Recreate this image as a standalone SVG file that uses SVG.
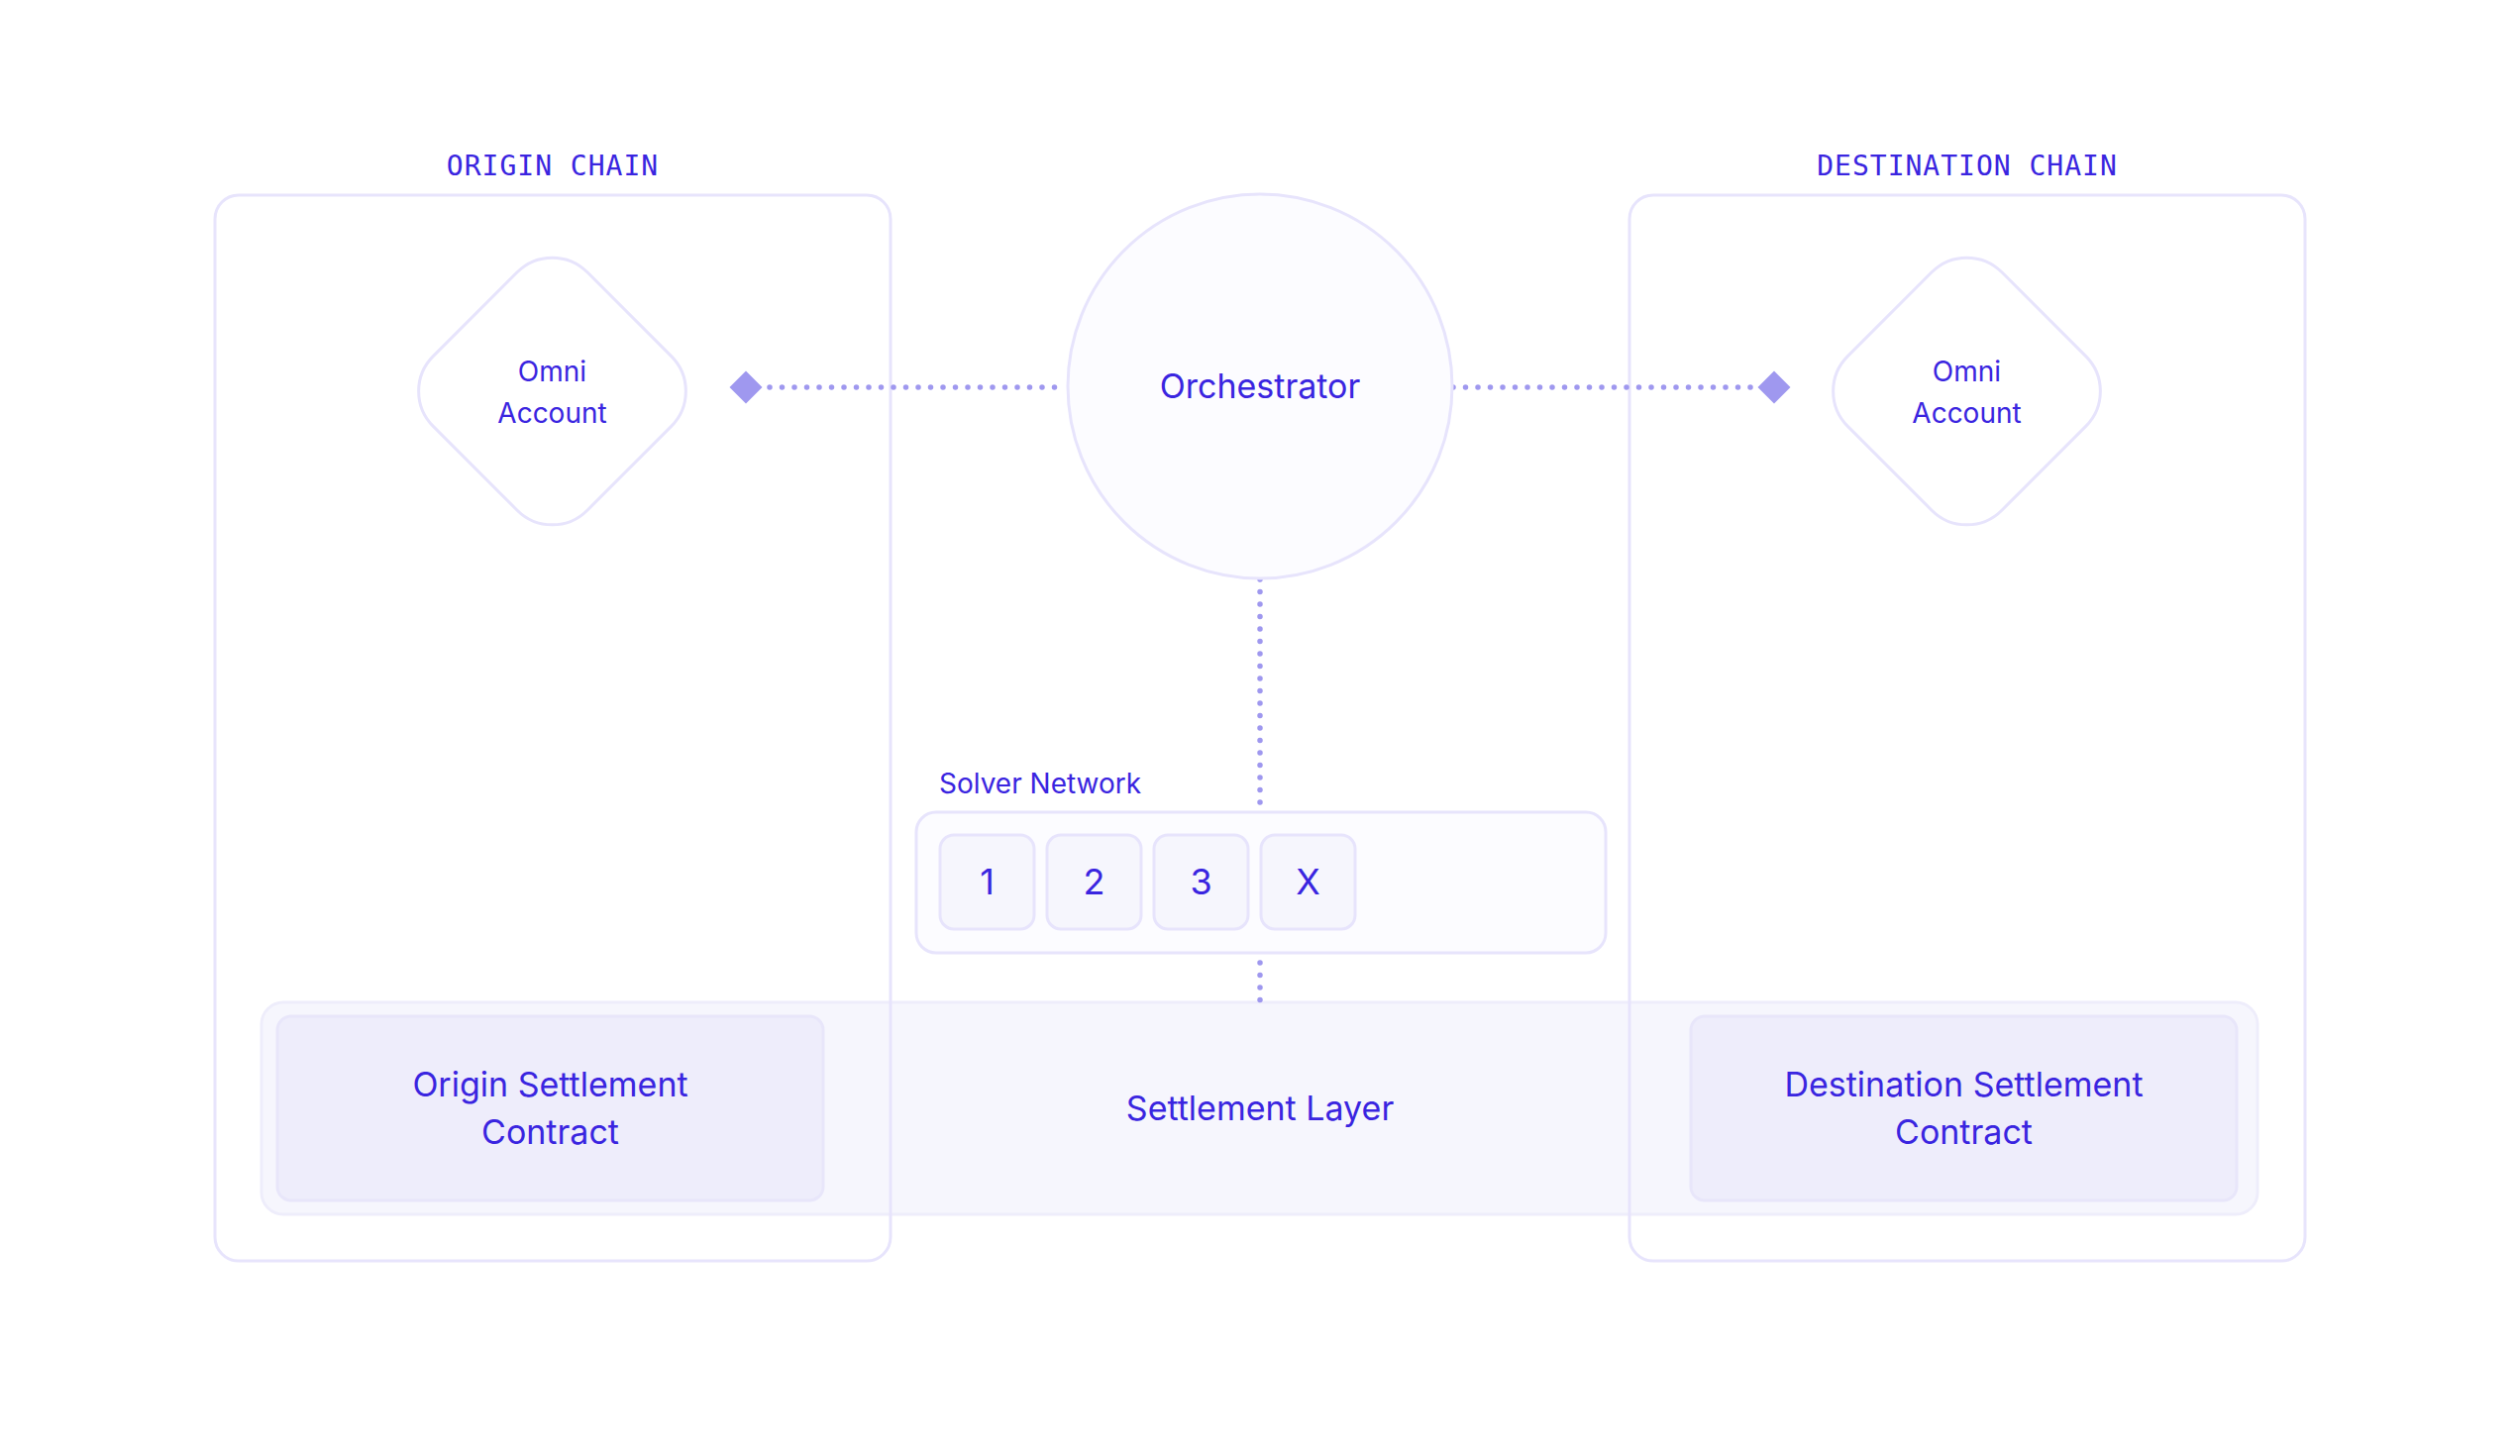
<svg xmlns="http://www.w3.org/2000/svg" width="2544" height="1470" viewBox="0 0 2544 1470">
<defs>
<style>
.label{font-family:Inter,"Noto Sans","Liberation Sans",sans-serif;fill:#3A25E0;text-anchor:middle}
.mono{font-family:"DejaVu Sans Mono","Liberation Mono",monospace;fill:#3A25E0;text-anchor:middle;font-size:28px;letter-spacing:1px}
.chain{fill:none;stroke:#E7E4FC;stroke-width:3}
.soft{stroke:#E7E4FC;stroke-width:3}
.dots{fill:none;stroke:#9F98EF;stroke-width:5.5;stroke-linecap:round;stroke-dasharray:0 12.5}
.marker{fill:#9F98EF}
</style>
</defs>
<rect width="2544" height="1470" fill="#FFFFFF"/>

<g id="settlement-layer">
<rect x="264" y="1012" width="2015" height="214" rx="22" fill="#F6F6FD" stroke="#EEEDFB" stroke-width="3"/>
<text class="label" x="1272" y="1131" font-size="34">Settlement Layer</text>
</g>

<g id="origin-chain">
<rect class="chain" x="217" y="197" width="682" height="1076" rx="24"/>
<text class="mono" x="558" y="177">ORIGIN CHAIN</text>
</g>

<g id="destination-chain">
<rect class="chain" x="1645" y="197" width="682" height="1076" rx="24"/>
<text class="mono" x="1986" y="177">DESTINATION CHAIN</text>
</g>

<g id="origin-settlement-contract">
<rect x="280" y="1026" width="551" height="186" rx="14" fill="#EEEDFB" stroke="#E8E6FA" stroke-width="3"/>
<text class="label" x="555.5" y="1107" font-size="34">Origin Settlement</text>
<text class="label" x="555.5" y="1155" font-size="34">Contract</text>
</g>

<g id="destination-settlement-contract">
<rect x="1707" y="1026" width="551" height="186" rx="14" fill="#EEEDFB" stroke="#E8E6FA" stroke-width="3"/>
<text class="label" x="1982.5" y="1107" font-size="34">Destination Settlement</text>
<text class="label" x="1982.5" y="1155" font-size="34">Contract</text>
</g>

<g id="connectors">
<path class="dots" d="M777 391 H1077"/>
<path class="dots" d="M1467 391 H1768"/>
<path class="dots" d="M1272 585 V811"/>
<path class="dots" d="M1272 972 V1010"/>
<polygon class="marker" points="753,374.5 769.5,391 753,407.5 736.5,391"/>
<polygon class="marker" points="1791,374.5 1807.5,391 1791,407.5 1774.5,391"/>
</g>

<g id="origin-omni-account">
<rect x="-110" y="-110" width="220" height="220" rx="50" fill="#FFFFFF" class="soft" transform="translate(557.5 395) rotate(45)"/>
<text class="label" x="557.5" y="385" font-size="28">Omni</text>
<text class="label" x="557.5" y="427" font-size="28">Account</text>
</g>

<g id="destination-omni-account">
<rect x="-110" y="-110" width="220" height="220" rx="50" fill="#FFFFFF" class="soft" transform="translate(1985.5 395) rotate(45)"/>
<text class="label" x="1985.5" y="385" font-size="28">Omni</text>
<text class="label" x="1985.5" y="427" font-size="28">Account</text>
</g>

<g id="orchestrator">
<circle cx="1272" cy="390" r="194" fill="#FCFCFF" class="soft"/>
<text class="label" x="1272" y="402" font-size="34">Orchestrator</text>
</g>

<g id="solver-network">
<text class="label" x="948" y="801" font-size="28" style="text-anchor:start">Solver Network</text>
<rect x="925" y="820" width="696" height="142" rx="20" fill="#FCFCFF" class="soft"/>
<g id="solver-1">
<rect x="949" y="843" width="95" height="95" rx="14" fill="#F6F6FD" class="soft"/>
<text class="label" x="996.5" y="903" font-size="36">1</text>
</g>
<g id="solver-2">
<rect x="1057" y="843" width="95" height="95" rx="14" fill="#F6F6FD" class="soft"/>
<text class="label" x="1104.5" y="903" font-size="36">2</text>
</g>
<g id="solver-3">
<rect x="1165" y="843" width="95" height="95" rx="14" fill="#F6F6FD" class="soft"/>
<text class="label" x="1212.5" y="903" font-size="36">3</text>
</g>
<g id="solver-x">
<rect x="1273" y="843" width="95" height="95" rx="14" fill="#F6F6FD" class="soft"/>
<text class="label" x="1320.5" y="903" font-size="36">X</text>
</g>
</g>
</svg>
